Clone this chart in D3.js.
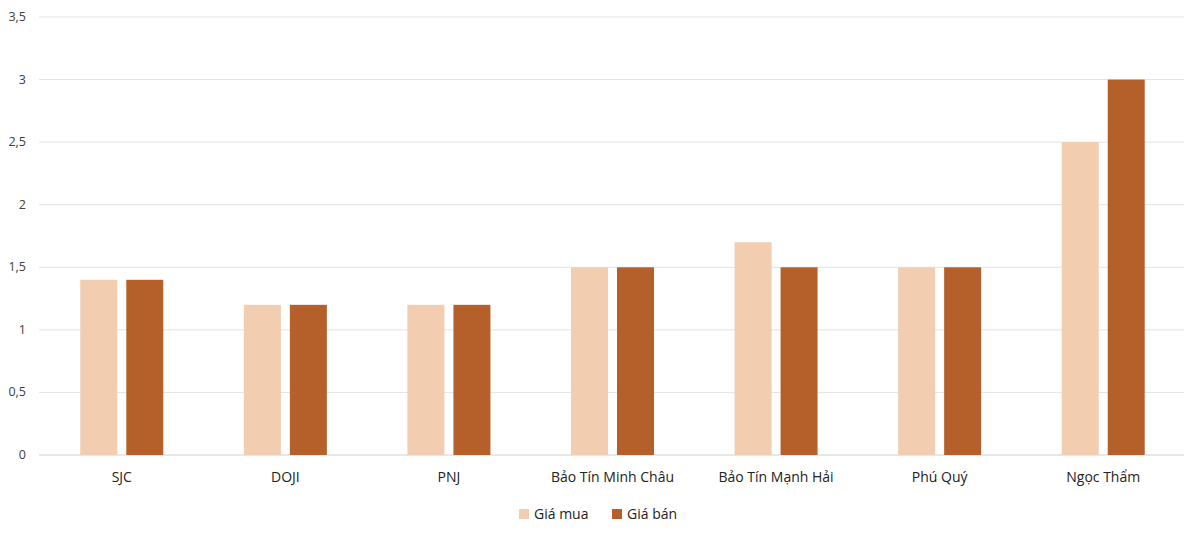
<!DOCTYPE html>
<html><head><meta charset="utf-8">
<script src="https://cdn.jsdelivr.net/npm/d3@7"></script>
<style>body{margin:0;background:#fff;font-family:"Open Sans",sans-serif}</style>
</head><body>
<svg id="c" width="1200" height="537"></svg>
<script>
const categories = ['SJC', 'DOJI', 'PNJ', 'Bảo Tín Minh Châu', 'Bảo Tín Mạnh Hải', 'Phú Quý', 'Ngọc Thẩm'];
const buyValues = [1.4, 1.2, 1.2, 1.5, 1.7, 1.5, 2.5];
const sellValues = [1.4, 1.2, 1.2, 1.5, 1.5, 1.5, 3];
const seriesNames = ['Giá mua', 'Giá bán'];
const yTicks = [0, 0.5, 1, 1.5, 2, 2.5, 3, 3.5];
const colors = ['#f2cdb0', '#b5602b'];

const svg = d3.select('#c');
const x = d3.scaleBand().domain(categories).range([40, 1185]);
const y = d3.scaleLinear().domain([0, 3.5]).range([455, 17]);
const fmt = d => String(d).replace('.', ',');

// gridlines
svg.append('g').selectAll('line').data(yTicks).join('line')
  .attr('x1', 39).attr('x2', 1184)
  .attr('y1', d => y(d)).attr('y2', d => y(d))
  .attr('stroke', d => d === 0 ? '#d0d0d0' : '#e3e3e3').attr('stroke-width', 1);

svg.append('g').selectAll('text').data(yTicks).join('text')
  .attr('x', 26).attr('y', d => y(d) + 4).attr('text-anchor', 'end')
  .attr('font-size', 12.5).attr('fill', '#404040').text(fmt);

const bw = 37, gap = 9;
[buyValues, sellValues].forEach((vals, i) => {
  svg.append('g').selectAll('rect').data(vals).join('rect')
    .attr('x', (d, j) => x(categories[j]) + x.bandwidth() / 2 + (i === 0 ? -gap / 2 - bw : gap / 2))
    .attr('y', d => y(d)).attr('width', bw).attr('height', d => y(0) - y(d))
    .attr('fill', colors[i]);
});

svg.append('g').selectAll('text').data(categories).join('text')
  .attr('x', d => x(d) + x.bandwidth() / 2).attr('y', 482).attr('text-anchor', 'middle')
  .attr('font-size', 14).attr('fill', '#222').text(d => d);

// legend
const lg = svg.append('g');
const lx = [519, 612];
seriesNames.forEach((n, i) => {
  lg.append('rect').attr('x', lx[i]).attr('y', 509).attr('width', 10).attr('height', 10).attr('fill', colors[i]);
  lg.append('text').attr('x', lx[i] + 15).attr('y', 519).attr('font-size', 14).attr('fill', '#222').text(n);
});
</script>
</body></html>
